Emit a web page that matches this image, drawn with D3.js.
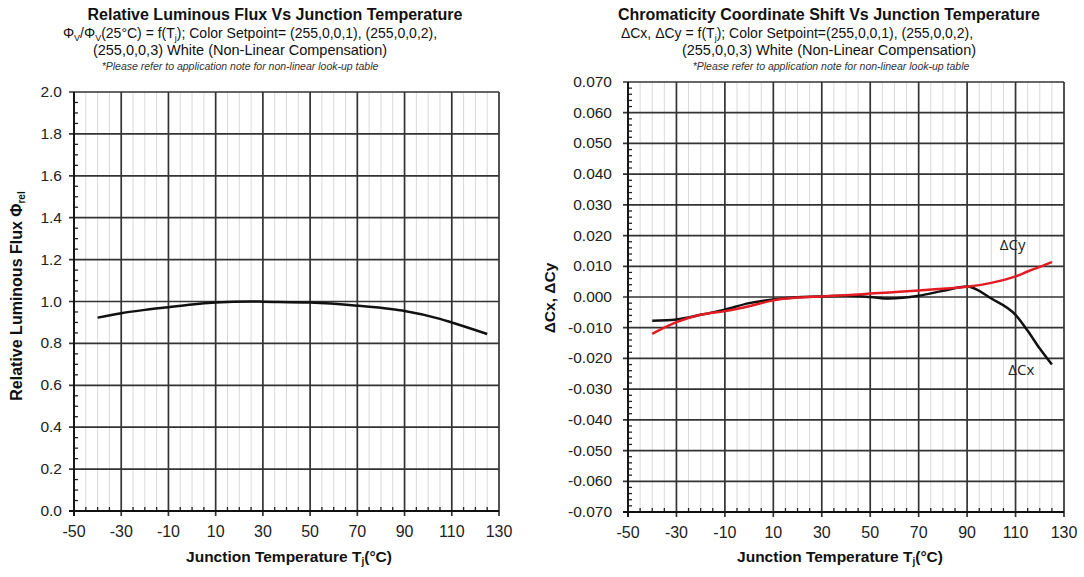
<!DOCTYPE html>
<html>
<head>
<meta charset="utf-8">
<script src="https://cdn.jsdelivr.net/npm/d3@7"></script>
<style>
  body { margin: 0; background: #fff; }
  svg { font-family: "Liberation Sans", Arial, sans-serif; }
</style>
</head>
<body>
<div id="chart"></div>
<script>
// ---- data ----
const fluxTemps = [-40, -30, -20, -10, 0, 10, 25, 30, 50, 70, 85, 90, 105, 110, 125];
const fluxRel = [0.923, 0.944, 0.96, 0.973, 0.986, 0.995, 1.0, 0.999, 0.995, 0.98, 0.963, 0.955, 0.917, 0.9, 0.845];

const shiftTemps = [-40, -30, -20, -10, 0, 10, 20, 30, 40, 50, 58, 70, 80, 90, 100, 110, 115, 120, 125];
const deltaCx = [-0.0077, -0.0073, -0.0058, -0.0041, -0.002, -0.0008, -0.0001, 0.0002, 0.0004, 0.0, -0.0005, 0.0004, 0.002, 0.0034, -0.0005, -0.0058, -0.011, -0.0168, -0.022];
const deltaCy = [-0.012, -0.0082, -0.0058, -0.0046, -0.003, -0.0011, -0.0002, 0.0002, 0.0006, 0.0011, 0.0015, 0.0021, 0.0027, 0.0033, 0.0046, 0.0067, 0.0083, 0.0098, 0.0114];

const xTicks = [-50, -30, -10, 10, 30, 50, 70, 90, 110, 130];
const fluxTicks = [0, 0.2, 0.4, 0.6, 0.8, 1.0, 1.2, 1.4, 1.6, 1.8, 2.0];
const shiftTicks = d3.range(-7, 8).map(d => d / 100);

const svg = d3.select("#chart")
    .append("svg")
    .attr("width", 1084)
    .attr("height", 577);

// plain hyphen for negatives, like the datasheet
const fmt = (spec) => {
    const f = d3.format(spec);
    return d => f(d).replace("−", "-");
};

// draws the frame, grid, ticks of one panel and returns its scales
function drawPanel(p) {
    const x = d3.scaleLinear().domain([-50, 130]).range([p.left, p.right]);
    const y = d3.scaleLinear().domain(p.yDomain).range([p.bottom, p.top]);
    const g = svg.append("g");
    const minorX = d3.range(-45, 130, 5).filter(d => (d + 50) % 20 !== 0);

    // minor vertical grid every 5 degrees
    g.selectAll(".minor-x")
        .data(minorX)
        .enter().append("line")
        .attr("x1", d => x(d)).attr("x2", d => x(d))
        .attr("y1", p.top).attr("y2", p.bottom)
        .attr("stroke", "#d9d9d9")
        .attr("stroke-width", 1);

    // minor ticks on x axis (inside)
    g.selectAll(".minor-xt")
        .data(minorX)
        .enter().append("line")
        .attr("x1", d => x(d)).attr("x2", d => x(d))
        .attr("y1", p.bottom).attr("y2", p.bottom - 4)
        .attr("stroke", "#222")
        .attr("stroke-width", 1.3);

    // minor ticks on y axis (inside)
    g.selectAll(".minor-yt")
        .data(p.minorY)
        .enter().append("line")
        .attr("x1", p.left).attr("x2", p.left + 4)
        .attr("y1", d => y(d)).attr("y2", d => y(d))
        .attr("stroke", "#222")
        .attr("stroke-width", 1.3);

    // major grid
    g.selectAll(".major-x")
        .data(xTicks)
        .enter().append("line")
        .attr("x1", d => x(d)).attr("x2", d => x(d))
        .attr("y1", p.top).attr("y2", p.bottom + 5)
        .attr("stroke", "#333")
        .attr("stroke-width", 1.7);

    g.selectAll(".major-y")
        .data(p.yTicks)
        .enter().append("line")
        .attr("x1", p.left - 5).attr("x2", p.right)
        .attr("y1", d => y(d)).attr("y2", d => y(d))
        .attr("stroke", "#333")
        .attr("stroke-width", 1.7);

    // axes lines
    g.append("line")
        .attr("x1", p.left).attr("x2", p.left)
        .attr("y1", p.top).attr("y2", p.bottom + 5)
        .attr("stroke", "#111").attr("stroke-width", 1.8);
    g.append("line")
        .attr("x1", p.left - 5).attr("x2", p.right)
        .attr("y1", p.bottom).attr("y2", p.bottom)
        .attr("stroke", "#111").attr("stroke-width", 1.8);

    // tick labels
    g.selectAll(".xlab")
        .data(xTicks)
        .enter().append("text")
        .attr("x", d => x(d))
        .attr("y", p.bottom + 26)
        .attr("text-anchor", "middle")
        .attr("font-size", 16)
        .attr("fill", "#222")
        .text(d => d);

    g.selectAll(".ylab")
        .data(p.yTicks)
        .enter().append("text")
        .attr("x", p.left - p.labelGap)
        .attr("y", d => y(d) + 5)
        .attr("text-anchor", "end")
        .attr("font-size", 15.5)
        .attr("fill", "#222")
        .text(p.yFormat);

    return { x: x, y: y, g: g };
}

function addTitles(t) {
    const g = svg.append("g").attr("fill", "#111");
    g.append("text")
        .attr("x", t.cx[0]).attr("y", 20)
        .attr("text-anchor", "middle")
        .attr("font-size", 16)
        .attr("font-weight", "bold")
        .text(t.title);

    const l1 = g.append("text")
        .attr("x", t.cx[1]).attr("y", 38)
        .attr("text-anchor", "middle")
        .attr("font-size", 14);
    t.line1.forEach(part => {
        const s = l1.append("tspan").text(part[0]);
        if (part[1]) s.attr("font-size", 9).attr("dy", 3);
        else if (part[2]) s.attr("dy", -3);
    });

    g.append("text")
        .attr("x", t.cx[2]).attr("y", 55)
        .attr("text-anchor", "middle")
        .attr("font-size", 14.5)
        .text("(255,0,0,3) White (Non-Linear Compensation)");

    g.append("text")
        .attr("x", t.cx[3]).attr("y", 70)
        .attr("text-anchor", "middle")
        .attr("font-size", 10.5)
        .attr("font-style", "italic")
        .attr("fill", "#333")
        .text("*Please refer to application  note for non-linear  look-up table");
}

function addXLabel(cx) {
    const t = svg.append("text")
        .attr("x", cx).attr("y", 562)
        .attr("text-anchor", "middle")
        .attr("font-size", 15.5)
        .attr("font-weight", "bold")
        .attr("fill", "#111");
    t.append("tspan").text("Junction Temperature T");
    t.append("tspan").text("j").attr("font-size", 10).attr("dy", 3);
    t.append("tspan").text("(°C)").attr("dy", -3);
}

// ---- left panel ----
const left = drawPanel({
    left: 74, right: 499, top: 92, bottom: 511,
    yDomain: [0, 2.0],
    yTicks: fluxTicks,
    minorY: d3.range(0.05, 2.0, 0.05).filter((d, i) => (i + 1) % 4 !== 0),
    yFormat: fmt(".1f"),
    labelGap: 12
});

const lineFlux = d3.line()
    .x(d => left.x(d[0]))
    .y(d => left.y(d[1]))
    .curve(d3.curveMonotoneX);

left.g.append("path")
    .datum(d3.zip(fluxTemps, fluxRel))
    .attr("d", lineFlux)
    .attr("fill", "none")
    .attr("stroke", "#111")
    .attr("stroke-width", 2.5);

addTitles({
    cx: [275, 250, 240, 240],
    title: "Relative Luminous Flux Vs Junction Temperature",
    line1: [["Φ"], ["V", true], ["/Φ", false, true], ["V", true], ["(25°C) = f(T", false, true], ["j", true], ["); Color Setpoint= (255,0,0,1), (255,0,0,2),", false, true]]
});
addXLabel(289);

const yLabL = svg.append("text")
    .attr("transform", "translate(22,296) rotate(-90)")
    .attr("text-anchor", "middle")
    .attr("font-size", 16)
    .attr("font-weight", "bold")
    .attr("fill", "#111");
yLabL.append("tspan").text("Relative Luminous Flux Φ");
yLabL.append("tspan").text("rel").attr("font-size", 10).attr("dy", 3);

// ---- right panel ----
const right = drawPanel({
    left: 628, right: 1064, top: 82, bottom: 512,
    yDomain: [-0.07, 0.07],
    yTicks: shiftTicks,
    minorY: d3.range(-68, 70, 2).filter(d => d % 10 !== 0).map(d => d / 1000),
    yFormat: fmt(".3f"),
    labelGap: 16
});

const lineShift = (vals) => d3.line()
    .x(d => right.x(d[0]))
    .y(d => right.y(d[1]))
    .curve(d3.curveMonotoneX)(d3.zip(shiftTemps, vals));

right.g.append("path")
    .attr("d", lineShift(deltaCx))
    .attr("fill", "none")
    .attr("stroke", "#111")
    .attr("stroke-width", 2.5);

right.g.append("path")
    .attr("d", lineShift(deltaCy))
    .attr("fill", "none")
    .attr("stroke", "#e31b23")
    .attr("stroke-width", 2.5);

// curve labels
right.g.append("text")
    .attr("x", right.x(103.5)).attr("y", right.y(0.0153))
    .attr("font-family", "Open Sans, sans-serif")
    .attr("font-size", 15)
    .attr("fill", "#222")
    .text("ΔCy");
right.g.append("text")
    .attr("x", right.x(107)).attr("y", right.y(-0.0255))
    .attr("font-family", "Open Sans, sans-serif")
    .attr("font-size", 15)
    .attr("fill", "#222")
    .text("ΔCx");

addTitles({
    cx: [829, 797, 829, 831],
    title: "Chromaticity Coordinate Shift Vs Junction Temperature",
    line1: [["ΔCx, ΔCy = f(T"], ["j", true], ["); Color Setpoint=(255,0,0,1), (255,0,0,2),", false, true]]
});
addXLabel(840);

svg.append("text")
    .attr("transform", "translate(555,298) rotate(-90)")
    .attr("text-anchor", "middle")
    .attr("font-size", 15.5)
    .attr("font-weight", "bold")
    .attr("fill", "#111")
    .text("ΔCx, ΔCy");
</script>
</body>
</html>
